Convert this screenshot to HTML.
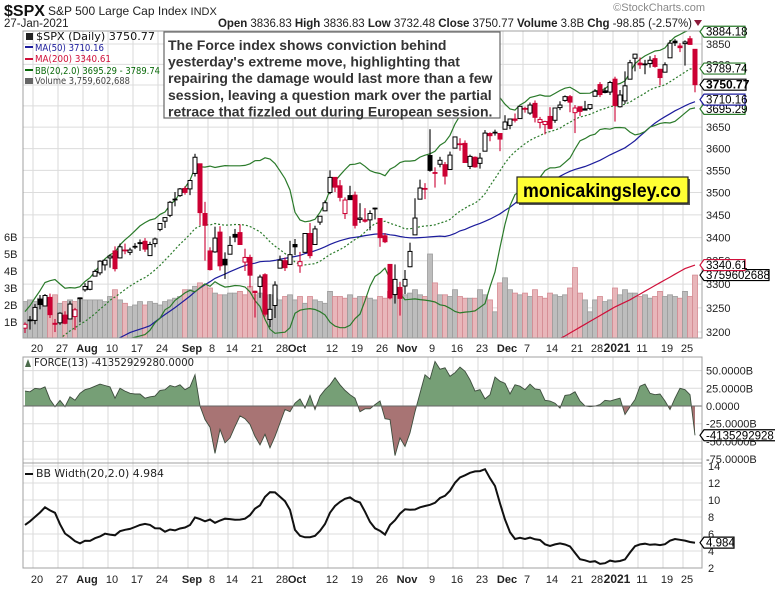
<!DOCTYPE html>
<html><head><meta charset="utf-8"><style>
html,body{margin:0;padding:0;background:#fff;}
svg{display:block;font-family:"Liberation Sans",sans-serif;}
</style></head><body>
<svg id="chart" width="775" height="589" viewBox="0 0 775 589" xmlns="http://www.w3.org/2000/svg">
<rect width="775" height="589" fill="#fff"/>
<g>
<text x="4" y="16" font-size="16" font-weight="bold" fill="#111">$SPX</text>
<text x="48" y="15" font-size="12" fill="#222">S&amp;P 500 Large Cap Index  <tspan font-size="11">INDX</tspan></text>
<text x="4" y="27" font-size="11.5" fill="#222">27-Jan-2021</text>
<text x="218" y="27" font-size="11.5" fill="#222" textLength="474" lengthAdjust="spacing"><tspan font-weight="bold">Open</tspan> 3836.83  <tspan font-weight="bold">High</tspan> 3836.83  <tspan font-weight="bold">Low</tspan> 3732.48  <tspan font-weight="bold">Close</tspan> 3750.77  <tspan font-weight="bold">Volume</tspan> 3.8B  <tspan font-weight="bold">Chg</tspan> -98.85 (-2.57%)</text>
<path d="M694,20 L702,20 L698,26 Z" fill="#8b1a3a"/>
<text x="705" y="11" font-size="11" fill="#888" text-anchor="end">©StockCharts.com</text>
</g>
<g id="layer"></g>
</svg>
<script>
// ---- data ----
const preCloses = [2868,2848,2882,2930,2930,2870,2820,2852,2864,2954,2922,2972,2949,2955,2992,3036,3030,3044,
3056,3081,3123,3112,3194,3232,3208,3190,3002,3041,3067,3125,3114,3116,3098,3118,3131,3050,3084,3009,3053,3100,
3116,3130,3180,3145,3170,3152,3185,3155,3197,3227];
const opens = [3208,3224,3224,3268,3254,3272,3218,3219,3235,3227,3232,3270,
3288,3289,3317,3324,3341,3356,3371,3356,3372,3368,3380,3387,3392,3361,3387,3418,3436,3449,3485,3493,3509,
3508,3543,3565,3453,3371,3369,3412,3353,3364,3407,3411,3347,3357,3285,3295,3320,3226,3255,3334,3350,3342,
3385,3339,3368,3409,3385,3434,3459,3500,3534,3515,3453,3493,3494,3440,3439,3439,3464,3442,3404,3342,3278,3293,
3296,3337,3406,3485,3508,3584,3544,3564,3563,3552,3601,3611,3612,3559,3580,3566,3594,3635,3638,3635,
3645,3654,3669,3670,3694,3683,3706,3661,3656,3675,3666,3696,3713,3722,3684,3698,3693,3694,3723,3751,3736,3733,
3764,3698,3712,3764,3815,3803,3801,3802,3814,3788,3781,3816,3857,3845,3851,3863,3836.83];
const highs = [3220,3233,3258,3277,3279,3280,3227,3241,3243,3264,3250,3272,
3302,3306,3331,3351,3352,3363,3381,3387,3387,3378,3388,3396,3399,3391,3400,3432,3444,3481,3501,3510,3514,
3528,3588,3565,3479,3379,3424,3425,3368,3403,3419,3429,3376,3363,3286,3320,3323,3279,3306,3361,3357,3393,
3397,3369,3409,3432,3426,3447,3482,3550,3534,3528,3489,3515,3502,3476,3465,3460,3466,3442,3410,3342,3342,3305,
3330,3389,3487,3529,3521,3645,3557,3581,3569,3593,3628,3624,3619,3586,3582,3590,3643,3638,3644,3635,
3678,3670,3682,3699,3698,3708,3713,3674,3665,3697,3695,3711,3725,3726,3702,3698,3712,3703,3740,3757,3744,3760,
3770,3738,3783,3811,3826,3817,3811,3820,3823,3789,3805,3860,3862,3852,3859,3870,3836.83];
const lows = [3198,3205,3216,3247,3253,3229,3200,3215,3216,3227,3204,3220,
3284,3287,3317,3319,3329,3335,3327,3355,3364,3362,3375,3371,3369,3360,3379,3414,3421,3445,3469,3490,3495,
3494,3536,3427,3350,3329,3367,3329,3311,3364,3390,3384,3328,3293,3230,3271,3232,3210,3229,3334,3328,3341,
3362,3324,3368,3355,3385,3428,3458,3496,3501,3480,3441,3483,3420,3432,3433,3416,3440,3380,3388,3268,3259,3234,
3279,3336,3406,3485,3485,3547,3511,3557,3518,3552,3601,3595,3567,3553,3556,3554,3594,3617,3630,3594,
3645,3645,3661,3670,3684,3679,3661,3647,3633,3645,3660,3690,3710,3685,3636,3676,3689,3690,3723,3721,3730,3726,
3663,3696,3705,3764,3783,3789,3776,3792,3792,3749,3780,3816,3845,3830,3797,3848,3732.48];
const closes = [3216,3225,3251,3257,3276,3236,3216,3239,3218,3258,3246,3271,
3295,3306,3327,3349,3351,3360,3333,3380,3373,3373,3381,3389,3375,3385,3397,3431,3444,3478,3484,3508,3500,
3527,3580,3455,3427,3331,3399,3339,3341,3383,3401,3385,3357,3319,3282,3315,3237,3247,3298,3351,3335,3363,
3380,3348,3409,3361,3419,3447,3477,3534,3512,3489,3483,3484,3427,3443,3436,3453,3465,3400,3391,3271,3310,3270,
3310,3370,3443,3510,3509,3550,3545,3573,3537,3585,3627,3610,3568,3582,3558,3578,3636,3630,3638,3622,
3662,3669,3666,3699,3692,3702,3673,3668,3663,3647,3695,3702,3722,3709,3695,3687,3690,3703,3735,3727,3732,3756,
3701,3726,3748,3804,3825,3799,3801,3810,3795,3768,3799,3852,3853,3841,3855,3849,3750.77];
const volumesB = [2.2,2.3,2.2,2.4,2.3,2.2,2.6,2.1,2.2,2.3,2.2,2.4,
2.3,2.3,2.3,2.3,2.2,2.5,2.9,2.3,2.1,1.9,2.0,2.2,2.0,2.2,2.1,2.0,2.2,2.3,2.4,2.5,2.9,
2.9,3.1,3.3,3.2,3.0,2.7,2.6,2.6,2.7,2.7,2.8,2.6,3.1,2.6,2.7,2.5,2.6,2.4,2.3,2.5,2.6,
2.3,2.5,2.1,2.5,2.3,2.2,2.1,2.8,2.5,2.5,2.4,2.6,2.4,2.5,2.5,2.4,2.3,2.5,2.4,2.8,2.6,2.9,
2.6,2.7,2.9,2.6,2.5,5.0,3.3,2.6,2.6,2.5,2.9,2.5,2.4,2.4,2.4,2.9,2.6,2.3,1.6,3.3,
3.6,2.9,2.7,2.6,2.7,2.5,2.9,2.5,2.4,2.7,2.6,2.5,2.6,3.0,4.2,2.7,2.3,1.6,2.3,2.5,2.2,2.3,
3.0,2.6,2.9,2.7,2.7,2.5,2.6,2.4,2.5,2.8,2.5,2.6,2.5,2.4,2.8,2.5,3.76];
const forceB = [21,20,25,24,27,9,-1,8,-1,13,8,18,23,25,28,31,29,27,11,25,21,18,17,17,11,13,14,22,23,29,
27,30,23,27,44,0,-19,-30,-67,-33,-52,-45,-29,-14,-18,-26,-43,-55,-40,-59,-43,-24,-5,-8,4,10,-3,15,-5,14,
23,30,40,30,22,16,11,-8,-4,-4,2,7,-18,-19,-70,-45,-57,-38,-8,18,44,38,63,52,54,42,47,55,49,37,
21,23,10,16,41,35,32,17,30,28,23,31,24,23,8,7,4,-3,15,16,20,7,0,-1,0,2,8,7,9,11,
-12,-1,9,28,31,18,16,17,7,-5,11,25,23,16,-41.35];
const ma200Start = 107;
const ma200 = [3187,3192,3198,3204,3210,3216,3222,3228,3234,3240,3246,3252,3257,3262,3267,3273,3279,3285,3291,3297,3303,3309,3315,3321,3327,3333,3337,3340.61];
const tickIdx = [2,7,12,17,22,27,33,37,41,46,51,54,61,66,71,76,81,86,91,96,100,105,110,114,118,123,128,132];
const tickLabels = ["20","27","Aug","10","17","24","Sep","8","14","21","28","Oct","12","19","26","Nov","9","16","23","Dec","7","14","21","28","2021","11","19","25"];
const priceTicks = [3200,3250,3300,3350,3400,3450,3500,3550,3600,3650,3700,3750,3800,3850];
const volTicks = [1,2,3,4,5,6];
const forceTicks = [50,25,0,-25,-50,-75];
const forceTickLabels = ["50.0000B","25.0000B","0.0000","-25.0000B","-50.0000B","-75.0000B"];
const bbwTicks = [2,4,6,8,10,12,14];

// ---- geometry ----
const L=23, R=702, MT=31, MB=338, FT=357, FB=463, BT=463, BB=568;
const NS="http://www.w3.org/2000/svg";
const layer=document.getElementById('layer');
function el(tag, attrs, parent){const e=document.createElementNS(NS,tag);for(const k in attrs)e.setAttribute(k,attrs[k]);(parent||layer).appendChild(e);return e;}
const xs = i => 25 + i*5.0;
const py = p => 44 + (Math.log(3850)-Math.log(p))*1557.7;
const vy = v => 339 - v*17;
const fy = v => 406 - v*0.708;
const by = v => 568 - (v-2)*8.5;
const isMonth = s => isNaN(+s) || s==="2021";

const defs=el('defs',{});
const c1=el('clipPath',{id:'cm'},defs); el('rect',{x:L,y:MT,width:R-L,height:MB-MT},c1);
const c2=el('clipPath',{id:'cfp'},defs); el('rect',{x:L,y:FT,width:R-L,height:406-FT},c2);
const c3=el('clipPath',{id:'cfn'},defs); el('rect',{x:L,y:406,width:R-L,height:FB-406},c3);

function vgrid(top,bot){
  for(let k=0;k<tickIdx.length;k++){
    const g=el('line',{x1:xs(tickIdx[k])-2,x2:xs(tickIdx[k])-2,y1:top,y2:bot,stroke:'#d9d9d9','stroke-width':1});
    
    
  }
}
vgrid(MT,MB); vgrid(FT,FB); vgrid(BT,BB);
for(const p of priceTicks){
  const g=el('line',{x1:L,x2:R,y1:py(p),y2:py(p),stroke:'#dcdcdc'});
  
  
  const t=el('text',{x:706,y:py(p)+4,'font-size':11,fill:'#222'}); t.textContent=p;
  
  
}
for(const v of volTicks){
  const t=el('text',{x:4,y:vy(v)+4,'font-size':11,fill:'#222'}); t.textContent=v+'B';
  
  
}
forceTicks.forEach((v,k)=>{
  const g=el('line',{x1:L,x2:R,y1:fy(v),y2:fy(v),stroke:v===0?'#666':'#dcdcdc'});
  
  
  const t=el('text',{x:706,y:fy(v)+4,'font-size':11,fill:'#222'}); t.textContent=forceTickLabels[k];
  
  
});
for(const v of bbwTicks){
  const g=el('line',{x1:L,x2:R,y1:by(v),y2:by(v),stroke:'#dcdcdc'});
  
  
  const t=el('text',{x:708,y:by(v)+4,'font-size':11,fill:'#222'}); t.textContent=v;
  
  
}
function dateLabels(y){
  tickIdx.forEach((i,k)=>{
    const s=tickLabels[k];
    const t=el('text',{x:xs(i)+2,y:y,'font-size':s==='2021'?12:11,'text-anchor':'middle',fill:'#222','font-weight':isMonth(s)?'bold':'normal'});
    t.textContent=s;
    
    
  });
}
dateLabels(352); dateLabels(583);

const gm=el('g',{'clip-path':'url(#cm)'});


volumesB.forEach((v,i)=>{
  const down = i>0 && closes[i]<closes[i-1];
  const r=el('rect',{x:xs(i)-2.5,y:vy(v),width:5,height:339-vy(v),fill:down?'#e8b6ba':'#bdbdbd',stroke:down?'#d48a92':'#9c9c9c','stroke-width':0.8},gm);
  
  
});
const all=preCloses.concat(closes); const off=preCloses.length;
function mean(a){return a.reduce((s,v)=>s+v,0)/a.length;}
const ma50=[],bbU=[],bbM=[],bbL=[],bbw=[];
closes.forEach((c,i)=>{
  const g=i+off;
  ma50.push(mean(all.slice(g-49,g+1)));
  const w=all.slice(g-19,g+1), m=mean(w);
  const sd=Math.sqrt(mean(w.map(v=>(v-m)*(v-m))));
  bbM.push(m); bbU.push(m+2*sd); bbL.push(m-2*sd); bbw.push(4*sd/m*100);
});
function line(vals,start,yf,attrs,name,parent){
  const d=vals.map((v,k)=>(k?'L':'M')+xs(k+start).toFixed(1)+','+yf(v).toFixed(1)).join('');
  const p=el('path',Object.assign({d:d,fill:'none'},attrs),parent);
  
  
  return p;
}
line(ma200,ma200Start,py,{stroke:'#d0103a','stroke-width':1.2},'ma200-line',gm);
line(ma50,0,py,{stroke:'#1c1c9c','stroke-width':1.2},'ma50-line',gm);
line(bbU,0,py,{stroke:'#2a7a2a','stroke-width':1.2},'bb-upper-line',gm);
line(bbL,0,py,{stroke:'#2a7a2a','stroke-width':1.2},'bb-lower-line',gm);
line(bbM,0,py,{stroke:'#2a7a2a','stroke-width':1.2,'stroke-dasharray':'2,2'},'bb-middle-line',gm);
closes.forEach((c,i)=>{
  const o=opens[i], prev=i>0?closes[i-1]:preCloses[preCloses.length-1];
  const col = c<prev ? '#cc0033' : '#000';
  const x=xs(i);
  const w=el('line',{x1:x,x2:x,y1:py(highs[i]),y2:py(lows[i]),stroke:col,'stroke-width':1.1},gm);
  
  
  const top=py(Math.max(o,c)), bot=py(Math.min(o,c));
  const b=el('rect',{x:x-2,y:top,width:4,height:Math.max(bot-top,0.8),fill:c>=o?'#fff':col,stroke:col,'stroke-width':1},gm);
  
  
});
function areaPath(){
  let d='M'+xs(0)+','+fy(0);
  forceB.forEach((v,i)=>{d+='L'+xs(i).toFixed(1)+','+fy(v).toFixed(1);});
  d+='L'+xs(forceB.length-1)+','+fy(0)+'Z';return d;
}
const fp=el('path',{d:areaPath(),fill:'#769f76','clip-path':'url(#cfp)'});


const fn=el('path',{d:areaPath(),fill:'#a87474','clip-path':'url(#cfn)'});


line(forceB,0,fy,{stroke:'#3d4d3d','stroke-width':0.9},'force-line');
const z=el('line',{x1:L,x2:R,y1:406,y2:406,stroke:'#666'});


line(bbw,0,by,{stroke:'#111','stroke-width':2},'bb-width-line');

[[MT,MB],[FT,FB],[BT,BB]].forEach(([a,b])=>{
  const r=el('rect',{x:L,y:a,width:R-L,height:b-a,fill:'none',stroke:'#a0a0a0'});
  
  
});

function tag(y,txt,col,bold,w){
  const g=el('g',{});
  
  
  el('path',{d:`M700,${y} L704,${y-5.5} L${704+w},${y-5.5} L${704+w},${y+5.5} L704,${y+5.5} Z`,fill:'#fff',stroke:col,'stroke-width':1.2},g);
  const t=el('text',{x:706,y:y+4,'font-size':bold?12:11.5,'font-weight':bold?'bold':'normal',fill:'#000'},g);t.textContent=txt;
}
tag(py(3695.29)+1,'3695.29','#2a7a2a',false,41);
tag(py(3710.16)-2,'3710.16','#1c1c9c',false,41);
tag(py(3789.74),'3789.74','#2a7a2a',false,41);
tag(py(3884.18)+1.5,'3884.18','#2a7a2a',false,41);
tag(py(3750.77),'3750.77','#000',true,42);
tag(vy(3.76),'3759602688','#000',false,65);
tag(py(3340.61),'3340.61','#d0103a',false,41);
tag(fy(-41.35),'-4135292928','#000',false,72);
tag(by(4.984),'4.984','#000',false,30);

function txt(x,y,s,size,col,name,len){const a={x:x,y:y,'font-size':size,fill:col,'font-family':'DejaVu Sans, sans-serif'};if(len){a.textLength=len;a.lengthAdjust='spacingAndGlyphs';}const t=el('text',a);t.textContent=s;return t;}
txt(36,40,'$SPX (Daily) 3750.77',11,'#111','legend-price',119);
el('rect',{x:26,y:33,width:7,height:7,fill:'#222'});
el('rect',{x:25,y:46,width:8,height:2,fill:'#1c1c9c'}); txt(35,51,'MA(50) 3710.16',10,'#1c1c9c','legend-ma50',69);
el('rect',{x:25,y:58,width:8,height:2,fill:'#d0103a'}); txt(35,62,'MA(200) 3340.61',10,'#d0103a','legend-ma200',76);
el('rect',{x:25,y:69,width:8,height:2,fill:'#0a6a0a'}); txt(35,74,'BB(20,2.0) 3695.29 - 3789.74',10,'#0a6a0a','legend-bb',125);
el('rect',{x:25,y:78,width:8,height:6,fill:'#666'}); txt(35,84,'Volume 3,759,602,688',10,'#444','legend-volume',95);
txt(34,366,'FORCE(13) -41352929280.0000',10.5,'#222','force-legend',160);
el('path',{d:'M25,367 L28,359 L31,367 Z',fill:'#4b6b4b'});
el('rect',{x:25,y:473,width:8,height:2,fill:'#111'}); txt(36,477,'BB Width(20,2.0) 4.984',10.5,'#222','bbw-legend',128);

const ann=el('g',{});  
el('rect',{x:164,y:32,width:336,height:86,fill:'#fff',stroke:'#666','stroke-width':1.2},ann);
['The Force index shows conviction behind',"yesterday's extreme move, highlighting that",'repairing the damage  would last more than a few','session, leaving a question mark over the partial','retrace that fizzled out during European session.'].forEach((s,k)=>{
  const t=el('text',{x:168,y:50+k*16.6,'font-size':14,'font-weight':'bold',fill:'#333'},ann);t.textContent=s;
});
const wm=el('g',{});  
el('rect',{x:519,y:179,width:171,height:26,fill:'#555'},wm);
el('rect',{x:517,y:177,width:171,height:26,fill:'#ffff33',stroke:'#222','stroke-width':1.2},wm);
const wt=el('text',{x:523,y:197,'font-size':19,'font-weight':'bold',fill:'#000',textLength:158,lengthAdjust:'spacingAndGlyphs'},wm);wt.textContent='monicakingsley.co';
</script>
</body></html>
